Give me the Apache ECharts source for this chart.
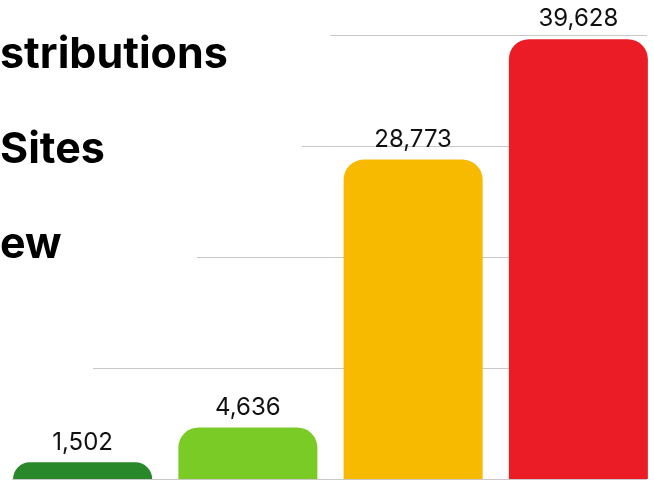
<!DOCTYPE html>
<html>
<head>
    <meta charset="utf-8">
    <title>Bar chart</title>
    <script src="https://cdn.jsdelivr.net/npm/echarts@6/dist/echarts.min.js"></script>
    <style>
        html, body {
            padding: 0;
            margin: 0;
            background: #ffffff;
            overflow: hidden;
        }
        #main {
            width: 661px;
            height: 480px;
        }
    </style>
</head>
<body>
    <div id="main"></div>
    <script>
    // data
    var categories = ['A', 'B', 'C', 'D'];
    var values = [1502, 4636, 28773, 39628];
    var barColors = ['#28882a', '#7bcb27', '#f7ba00', '#ec1c26'];
    var titleLines = ['stributions', 'Sites', 'ew'];
    var yTicks = [0, 10000, 20000, 30000, 40000];

    var myChart = echarts.init(document.getElementById('main'));

    var option = {
        backgroundColor: '#ffffff',
        animation: false,
        title: {
            text: titleLines.join('\n'),
            left: 0,
            top: 8,
            padding: 0,
            textStyle: {
                fontFamily: 'Inter',
                fontWeight: 'bold',
                fontSize: 43,
                lineHeight: 95,
                color: '#000000'
            }
        },
        // white masks hide the left ends of the grid lines, as in the picture
        graphic: [
            { type: 'rect', z: 1, shape: { x: 0, y: 30, width: 330, height: 10 }, style: { fill: '#ffffff' } },
            { type: 'rect', z: 1, shape: { x: 0, y: 141, width: 302, height: 10 }, style: { fill: '#ffffff' } },
            { type: 'rect', z: 1, shape: { x: 0, y: 252, width: 197, height: 10 }, style: { fill: '#ffffff' } },
            { type: 'rect', z: 1, shape: { x: 0, y: 363, width: 93, height: 10 }, style: { fill: '#ffffff' } },
            { type: 'rect', z: 1, shape: { x: 0, y: 474, width: 12, height: 6 }, style: { fill: '#ffffff' } },
            { type: 'rect', z: 1, shape: { x: 647, y: 0, width: 20, height: 480 }, style: { fill: '#ffffff' } }
        ],
        grid: {
            left: 0,
            right: 0,
            top: 35,
            bottom: 1,
            containLabel: false
        },
        xAxis: {
            type: 'category',
            data: categories,
            axisLine: { show: false },
            axisTick: { show: false },
            axisLabel: { show: false }
        },
        yAxis: {
            type: 'value',
            min: yTicks[0],
            max: yTicks[yTicks.length - 1],
            interval: yTicks[1] - yTicks[0],
            axisLabel: { show: false },
            axisLine: { show: false },
            axisTick: { show: false },
            splitLine: {
                show: true,
                lineStyle: { color: '#c8c8c8', width: 1 }
            }
        },
        series: [{
            type: 'bar',
            barWidth: 139,
            data: values.map(function (v, i) {
                return { value: v, itemStyle: { color: barColors[i] } };
            }),
            itemStyle: {
                borderRadius: [20, 20, 0, 0]
            },
            label: {
                show: true,
                position: 'top',
                distance: 8,
                fontFamily: 'Inter',
                fontSize: 24,
                color: '#111111',
                formatter: function (p) {
                    return p.value.toLocaleString('en-US');
                }
            }
        }]
    };

    myChart.setOption(option);
    </script>
</body>
</html>
